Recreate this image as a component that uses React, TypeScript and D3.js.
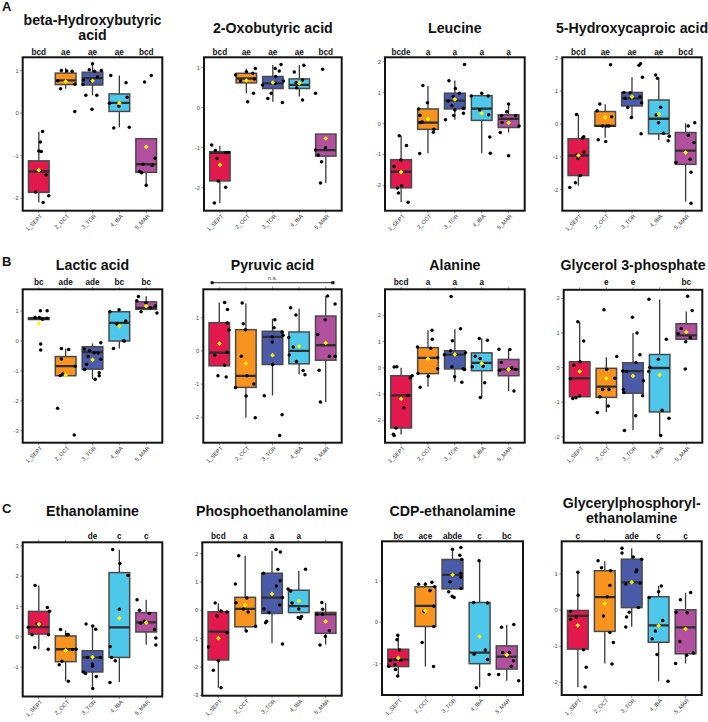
import React from "react";
import * as d3 from "d3";

// ---------- data ----------
const groups = ["1_SEPT", "2_OCT", "3_TOR", "4_IBA", "5_MAR"];
const groupColors = ["#E3184C", "#F7931E", "#4A5BAA", "#4DC7EA", "#B24F9E"];

const titles = [
  ["beta-Hydroxybutyric", "acid"], ["2-Oxobutyric acid"], ["Leucine"], ["5-Hydroxycaproic acid"],
  ["Lactic acid"], ["Pyruvic acid"], ["Alanine"], ["Glycerol 3-phosphate"],
  ["Ethanolamine"], ["Phosphoethanolamine"], ["CDP-ethanolamine"], ["Glycerylphosphoryl-", "ethanolamine"],
];

const sigLetters = [
  ["bcd", "ae", "ae", "ae", "bcd"], ["bcd", "ae", "ae", "ae", "bcd"], ["bcde", "a", "a", "a", "a"], ["bcd", "ae", "ae", "ae", "bcd"],
  ["bc", "ade", "ade", "bc", "bc"], ["", "", "", "", ""], ["bcd", "a", "a", "a", ""], ["", "e", "e", "", "bc"],
  ["", "", "de", "c", "c"], ["bcd", "a", "a", "a", ""], ["bc", "ace", "abde", "c", "bc"], ["c", "", "ade", "c", "c"],
];

// box stats per group: [lowerWhisker, q1, median, q3, upperWhisker]
const bhbBox = [[-2.1, -1.86, -1.37, -1.12, -0.44], [0.57, 0.67, 0.77, 0.94, 1.06], [0.42, 0.66, 0.82, 0.96, 1.16], [-0.33, 0.04, 0.24, 0.45, 0.88], [-1.69, -1.39, -1.2, -0.6, -0.6]];
const oxoBox = [[-2.38, -1.83, -1.13, -1.1, -0.95], [0.36, 0.62, 0.73, 0.86, 0.98], [0.15, 0.48, 0.61, 0.78, 1.07], [0.28, 0.48, 0.57, 0.72, 1.06], [-1.88, -1.21, -1.06, -0.66, -0.66]];
const leuBox = [[-2.54, -2.08, -1.56, -1.17, -0.4], [-0.96, -0.19, 0.03, 0.47, 1.21], [0.12, 0.47, 0.74, 0.98, 1.39], [-0.96, 0.1, 0.48, 0.9, 0.98], [-0.29, -0.13, 0.15, 0.28, 0.63]];
const hcaBox = [[-1.88, -1.57, -0.96, -0.45, 0.29], [-0.42, -0.07, -0.06, 0.38, 0.6], [0.2, 0.55, 0.78, 0.96, 1.42], [-0.49, -0.3, 0.16, 0.73, 1.39], [-2.37, -1.23, -0.81, -0.26, 0.02]];
const lacBox = [[0.72, 0.72, 0.75, 0.78, 0.79], [-1.16, -1.16, -0.84, -0.52, -0.25], [-1.28, -0.94, -0.37, -0.19, -0.08], [-0.25, 0.0, 0.61, 0.98, 1.04], [1.06, 1.06, 1.11, 1.31, 1.5]];
const pyrBox = [[-0.45, -0.45, -0.05, 0.85, 1.46], [-2.01, -1.1, -0.75, 0.64, 1.43], [-1.34, -0.41, 0.42, 0.59, 0.97], [-0.71, -0.39, 0.0, 0.57, 1.28], [-1.54, -0.28, 0.17, 1.05, 1.65]];
const alaBox = [[-2.54, -2.29, -1.05, -0.3, 0.0], [-0.72, -0.22, 0.38, 0.77, 1.43], [-0.53, -0.04, 0.5, 0.65, 1.47], [-1.13, -0.11, 0.19, 0.57, 1.12], [-0.89, -0.3, -0.06, 0.32, 0.7]];
const g3pBox = [[-0.84, -0.84, -0.31, 0.17, 1.33], [-1.28, -0.86, -0.55, -0.02, 0.3], [-1.81, -0.74, -0.1, 0.14, 1.0], [-1.95, -1.28, -0.01, 0.38, 1.97], [0.82, 0.82, 0.93, 1.27, 1.62]];
const ethBox = [[-0.41, 0.09, 0.32, 0.84, 1.69], [-1.45, -0.82, -0.41, 0.03, 0.21], [-1.71, -1.16, -0.68, -0.46, 0.36], [-1.49, -0.68, 0.31, 2.12, 2.87], [-0.26, 0.16, 0.48, 0.8, 1.22]];
const petBox = [[-2.73, -1.75, -0.75, -0.05, 0.25], [-0.73, -0.58, 0.05, 0.46, 1.93], [-1.16, -0.11, 0.45, 1.31, 2.09], [-0.08, -0.08, 0.15, 0.71, 1.4], [-1.2, -0.81, -0.14, -0.07, 0.26]];
const cdpBox = [[-1.27, -1.07, -0.9, -0.65, -0.31], [-1.07, -0.1, 0.4, 0.86, 0.97], [0.81, 0.81, 1.15, 1.52, 1.77], [-1.57, -1.0, -0.73, 0.48, 1.49], [-1.41, -1.13, -0.83, -0.57, -0.06]];
const gpeBox = [[-2.13, -1.08, -0.16, -0.01, 1.05], [-1.48, -0.59, 0.36, 1.09, 1.35], [-0.46, 0.07, 0.77, 1.41, 1.71], [-1.97, -0.89, -0.42, 0.37, 0.67], [-1.48, -1.21, -0.48, 0.01, 0.48]];

const bhbMean = [-1.34, 0.74, 0.76, 0.24, -0.79];
const oxoMean = [-1.43, 0.68, 0.63, 0.61, -0.77];
const leuMean = [-1.57, 0.15, 0.78, 0.33, 0.02];
const hcaMean = [-0.96, 0.2, 0.83, 0.3, -0.87];
const lacMean = [0.59, -1.14, -0.63, 0.5, 1.17];
const pyrMean = [0.22, -0.38, -0.13, 0.14, 0.24];
const alaMean = [-1.18, 0.34, 0.51, 0.17, -0.06];
const g3pMean = [-0.11, -0.31, -0.24, -0.21, 1.03];
const ethMean = [0.42, -0.45, -0.67, 0.62, 0.47];
const petMean = [-0.98, 0.19, 0.58, 0.33, -0.39];
const cdpMean = [-0.86, 0.28, 1.15, -0.34, -0.79];
const gpeMean = [-0.42, 0.18, 0.77, -0.43, -0.52];

// individual samples per group: [value, jitter (fraction of category step)]
const bhbPts = [
  [[-0.43, 0.14], [-0.68, 0.06], [-0.89, 0], [-0.9, 0.09], [-1.45, 0.27], [-1.85, -0.12], [-1.94, 0.37], [-2.1, 0.16]],
  [[1.0, -0.16], [0.99, 0.04], [0.98, 0.24], [0.76, -0.29], [0.68, 0.34], [0.57, -0.19], [0.04, 0.34]],
  [[1.16, 0], [1.02, -0.12], [0.98, 0.08], [1.0, 0.33], [0.78, -0.34], [0.76, -0.06], [0.85, 0.19], [0.42, -0.25], [0.42, 0.16], [0.09, -0.02], [0.67, -0.35]],
  [[0.88, -0.32], [0.71, 0.25], [0.37, 0.29], [0.23, -0.37], [0.16, -0.02], [-0.35, -0.21], [-0.33, 0.37]],
  [[0.73, -0.06], [0.88, 0.19], [-1.06, 0.33], [-1.2, -0.12], [-1.23, 0.22], [-1.37, -0.25], [-1.4, -0.17], [-1.69, 0]],
];
const oxoPts = [
  [[-0.93, -0.31], [-1.07, -0.17], [-1.27, -0.11], [-1.12, 0.22], [-1.12, 0.32], [-1.83, -0.06], [-1.99, 0.22], [-2.38, -0.21]],
  [[0.82, -0.41], [0.9, 0], [0.98, 0.34], [0.67, -0.22], [0.86, 0.24], [0.72, 0.3], [0.36, 0.27], [0.15, 0.05]],
  [[0.98, 0.09], [1.08, 0.31], [0.92, 0.24], [0.78, 0.11], [0.57, -0.39], [0.23, -0.19], [0.36, -0.06], [0.67, 0.4], [0.61, 0.09], [0.13, 0.36]],
  [[0.89, -0.19], [1.06, 0.17], [0.69, 0.12], [0.63, -0.12], [0.5, -0.1], [0.19, 0.12]],
  [[0.96, -0.12], [0.36, -0.39], [-1.06, -0.39], [-1.0, -0.01], [-1.18, -0.29], [-1.35, -0.16], [-1.88, -0.2]],
];
const leuPts = [
  [[-0.4, -0.07], [-0.71, 0.2], [-1.18, -0.01], [-1.39, -0.26], [-2.01, 0.02], [-2.09, -0.14], [-2.25, -0.1], [-2.55, 0.26]],
  [[1.23, -0.19], [0.67, -0.02], [0.47, -0.35], [0.27, -0.3], [0.03, -0.29], [0.05, -0.22], [-0.19, 0.22], [-0.28, 0.2], [-0.97, -0.31]],
  [[1.91, 0.36], [1.38, -0.22], [1.13, 0.02], [0.98, 0.17], [0.87, -0.06], [0.73, -0.24], [0.57, -0.11], [0.26, -0.04], [0.12, -0.35], [0.49, 0.32], [0.33, 0.32], [0.44, 0]],
  [[0.89, -0.39], [0.98, 0], [0.89, 0.24], [0.44, -0.07], [0.28, 0.26], [-0.44, 0.3], [-0.96, 0.32]],
  [[0.63, 0], [0.38, -0.07], [0.25, -0.26], [0.25, 0.26], [0.03, -0.24], [-0.08, 0.39], [-0.29, -0.31], [-1.04, 0]],
];
const hcaPts = [
  [[0.29, -0.07], [-0.39, 0.2], [-0.43, 0.15], [-0.85, 0.21], [-0.94, -0.04], [-1.05, -0.01], [-1.57, 0.07], [-1.79, -0.11], [-1.93, -0.32]],
  [[1.8, 0.2], [0.61, -0.2], [0.4, -0.3], [0.22, 0.24], [-0.06, 0.05], [-0.06, -0.1], [-0.06, 0.14], [-0.48, -0.26], [-0.53, 0.02]],
  [[1.79, 0.26], [1.83, 0.32], [1.42, 0.39], [0.96, -0.3], [0.95, -0.07], [0.83, 0.3], [0.78, -0.26], [0.65, 0.36], [0.5, -0.16], [0.2, -0.02], [-0.3, 0.34]],
  [[1.49, -0.12], [1.39, -0.05], [0.51, 0.07], [0.27, -0.1], [0.04, -0.01], [-0.28, 0.17], [-0.37, 0.39], [-0.51, 0.35]],
  [[0.04, 0.34], [-0.06, 0.1], [-0.34, 0.1], [-0.56, 0.31], [-1.17, -0.36], [-1.07, 0.17], [-1.47, 0.2], [-2.41, 0.2]],
];
const lacPts = [
  [[1.01, 0.06], [1.01, 0.31], [0.79, -0.14], [0.79, 0.02], [0.73, 0.14], [0.76, 0.3], [-0.1, 0.07], [-0.3, 0.07]],
  [[-0.25, -0.16], [-0.28, 0.11], [-0.6, -0.16], [-0.84, 0.36], [-1.15, -0.2], [-1.1, -0.11], [-2.25, -0.3], [-3.14, 0.32]],
  [[-0.06, 0.31], [-0.27, -0.31], [-0.32, -0.11], [-0.39, 0.06], [-0.4, 0.21], [-0.52, -0.16], [-0.61, 0.31], [-0.78, -0.22], [-0.95, -0.29], [-1.06, 0.25], [-1.16, 0.25], [-1.28, 0.1]],
  [[0.98, -0.35], [1.05, -0.01], [0.67, 0.24], [0.57, -0.1], [0.01, 0.15], [0.0, 0.19], [-0.25, -0.22]],
  [[1.49, -0.29], [1.35, -0.35], [1.28, -0.01], [0.98, -0.19], [1.11, 0.16], [1.18, 0.34], [0.94, 0.4]],
];
const pyrPts = [
  [[1.46, 0.2], [1.25, 0.31], [0.84, 0.3], [0.63, 0.36], [-0.13, -0.17], [-0.04, 0.29], [-0.43, 0.2], [-0.75, -0.05], [-0.79, 0.26]],
  [[1.44, -0.14], [0.82, -0.1], [0.64, -0.02], [-0.16, -0.17], [-0.75, 0.04], [-1.0, 0.3], [-1.1, -0.39], [-1.36, 0.01], [-2.01, 0.35]],
  [[0.94, 0.09], [0.7, 0.06], [0.42, -0.01], [0.27, -0.01], [0.57, 0.36], [0.47, 0.4], [-0.41, 0.01], [-1.35, -0.31], [-1.92, 0.36], [-2.55, 0.27]],
  [[1.3, -0.32], [1.08, -0.12], [0.4, -0.39], [0.12, -0.22], [-0.12, -0.37], [-0.32, -0.1], [-0.59, 0.15], [-0.72, 0.22]],
  [[1.65, 0.07], [1.41, 0.35], [0.94, -0.02], [0.49, -0.3], [-0.16, 0.14], [-0.16, 0.35], [-0.58, -0.25], [-1.54, -0.2]],
];
const alaPts = [
  [[0.03, -0.26], [0.04, -0.16], [-0.38, 0.34], [-0.3, 0.41], [-1.05, 0.25], [-1.52, 0.1], [-2.29, -0.19], [-2.53, -0.29], [-2.58, -0.26]],
  [[1.43, 0.15], [1.09, 0.16], [0.79, -0.39], [0.75, 0.1], [0.38, 0.36], [-0.03, 0.36], [-0.22, -0.37], [-0.32, 0.01], [-0.74, -0.29]],
  [[2.72, -0.14], [1.49, 0.21], [1.03, -0.09], [0.65, -0.16], [0.5, -0.39], [0.57, 0.4], [0.04, -0.11], [-0.06, 0.36], [-0.03, 0.31], [-0.34, -0.01], [-0.55, 0.26]],
  [[1.12, -0.09], [1.05, 0.21], [0.44, -0.24], [0.36, -0.06], [0.06, 0.05], [0.04, -0.35], [-0.57, 0.11], [-1.13, -0.05]],
  [[0.71, -0.36], [0.7, 0.05], [0.2, -0.27], [-0.1, -0.34], [0.0, 0.12], [-0.06, 0.27], [-0.88, 0.2]],
];
const g3pPts = [
  [[1.33, -0.07], [0.77, 0.15], [0.17, 0.02], [0.07, -0.22], [-0.32, -0.35], [-0.89, -0.26], [-0.87, -0.14], [-0.82, -0.01]],
  [[1.67, -0.09], [0.32, 0.39], [-0.05, 0.01], [-0.31, 0.32], [-0.63, -0.14], [-0.63, 0.1], [-0.84, -0.24], [-1.11, 0.07], [-1.3, -0.34]],
  [[1.46, -0.02], [1.0, 0.15], [0.37, 0.26], [0.15, 0.11], [-0.1, -0.39], [-0.11, -0.24], [-0.38, 0.39], [-0.63, -0.36], [-0.72, -0.34], [-0.81, 0.36], [-1.39, 0.1], [-1.82, -0.32]],
  [[1.98, -0.4], [0.82, 0.25], [0.24, -0.05], [0.01, -0.37], [-0.11, -0.41], [-1.23, 0.09], [-1.46, 0.35], [-1.96, 0.04]],
  [[2.06, 0.05], [1.65, 0.22], [1.13, -0.19], [0.99, -0.31], [0.87, 0.15], [0.75, -0.02], [-0.04, -0.04]],
];
const ethPts = [
  [[1.69, -0.14], [0.97, 0.32], [0.84, 0.4], [0.43, -0.06], [0.32, -0.39], [0.07, -0.25], [0.07, 0.36], [-0.35, -0.15], [-0.41, 0.35]],
  [[0.24, -0.19], [0.07, 0.04], [0.08, 0.1], [-0.42, 0.01], [-0.42, 0.26], [-0.41, 0.39], [-0.81, -0.14], [-0.92, -0.24], [-1.47, 0.1]],
  [[0.42, -0.24], [0.36, 0.01], [0.25, 0.12], [-0.68, -0.19], [-0.68, 0.29], [-0.9, 0], [-0.97, 0], [-1.16, -0.34], [-1.21, -0.26], [-1.31, 0.14], [-1.71, 0.01]],
  [[2.88, -0.25], [2.42, 0.02], [2.02, 0.32], [0.91, 0], [-0.32, -0.34], [-0.68, -0.29], [-0.79, -0.15], [-1.51, -0.35]],
  [[1.22, -0.34], [0.88, -0.25], [0.77, 0.12], [0.51, -0.07], [0.45, -0.21], [0.24, 0.31], [-0.04, 0.36], [-0.27, 0.36]],
];
const petPts = [
  [[0.26, -0.12], [-0.2, -0.05], [-0.02, 0.1], [-0.06, 0.32], [-0.79, 0.32], [-1.29, -0.37], [-1.78, 0], [-2.11, -0.19], [-2.73, 0.1]],
  [[1.93, -0.24], [0.93, -0.37], [0.27, -0.34], [0.44, 0.06], [0.05, -0.07], [-0.06, 0.11], [-0.56, 0.39], [-0.73, 0.04]],
  [[2.15, 0.15], [2.06, 0.31], [1.44, 0.22], [1.31, -0.32], [1.04, 0.3], [0.86, 0.16], [0.45, 0.39], [0.19, 0.29], [0.05, -0.3], [-0.08, -0.11], [-0.38, -0.2], [-0.44, -0.24], [-1.19, 0.39]],
  [[0.75, -0.4], [0.68, -0.3], [0.26, -0.25], [1.45, 0.25], [0.05, 0], [-0.29, 0.06], [-0.25, -0.02], [-0.22, 0.1]],
  [[0.28, -0.14], [0.04, -0.11], [-0.14, -0.32], [-0.14, -0.12], [-0.72, 0.14], [-0.92, -0.01], [-1.22, -0.21]],
];
const cdpPts = [
  [[-0.31, -0.02], [-0.42, -0.05], [-0.67, 0.05], [-0.92, -0.29], [-0.9, -0.1], [-0.92, 0.09], [-1.06, -0.35], [-1.14, -0.1], [-1.3, -0.02], [-1.02, -0.12]],
  [[0.92, -0.25], [0.92, 0], [0.97, 0.24], [0.77, 0.17], [0.86, 0.34], [0.39, 0.31], [0.26, -0.05], [-0.1, 0.31], [-0.49, -0.12], [-1.07, 0.3]],
  [[1.77, 0], [1.81, 0.31], [1.62, 0.27], [1.52, 0.34], [1.15, -0.01], [1.19, 0.31], [1.09, 0.31], [0.98, -0.09], [0.82, 0.31], [0.74, -0.14], [0.63, -0.01], [0.6, 0.06]],
  [[1.49, -0.02], [0.48, -0.22], [0.47, 0.29], [-0.77, -0.2], [-0.67, 0.21], [-0.9, 0.29], [-1.26, 0.35], [-1.58, -0.12]],
  [[-0.12, -0.19], [-0.05, 0.26], [-0.73, -0.15], [-0.73, 0.1], [-0.93, 0.25], [-1.06, 0.17], [-1.26, -0.3], [-1.41, 0.44]],
];
const gpePts = [
  [[1.05, 0], [0.41, 0.01], [-0.04, -0.27], [-0.19, -0.06], [-0.25, -0.27], [-1.1, 0.21], [-1.58, 0.31], [-2.13, 0.27]],
  [[1.37, -0.25], [1.17, -0.12], [1.09, 0.21], [0.37, 0.09], [0.68, 0.19], [-0.16, -0.05], [-0.62, 0.19], [-0.9, 0.32], [-1.49, 0.27]],
  [[1.71, -0.36], [1.58, -0.36], [1.47, 0.06], [1.41, 0.37], [1.11, 0.19], [1.06, 0.16], [0.72, -0.22], [0.75, 0.31], [0.07, 0.25], [-0.06, -0.09], [-0.19, -0.19], [-0.47, -0.22]],
  [[0.35, -0.35], [0.51, 0], [0.67, 0.1], [-0.29, 0.15], [-0.58, -0.12], [-0.79, -0.24], [-1.23, -0.06], [-1.97, 0.35]],
  [[0.29, -0.19], [0.49, 0.19], [-0.06, -0.35], [-0.07, 0.06], [-0.87, -0.21], [-1.25, 0.04], [-1.19, 0.29], [-1.48, -0.37]],
];

const allBoxes = [bhbBox, oxoBox, leuBox, hcaBox, lacBox, pyrBox, alaBox, g3pBox, ethBox, petBox, cdpBox, gpeBox];
const allMeans = [bhbMean, oxoMean, leuMean, hcaMean, lacMean, pyrMean, alaMean, g3pMean, ethMean, petMean, cdpMean, gpeMean];
const allPts = [bhbPts, oxoPts, leuPts, hcaPts, lacPts, pyrPts, alaPts, g3pPts, ethPts, petPts, cdpPts, gpePts];
const yDomains = [
  [-2.29, 1.31], [-2.575, 1.26], [-2.82, 2.14], [-2.64, 2.03],
  [-3.4, 1.73], [-2.765, 1.855], [-2.85, 2.99], [-2.17, 2.25],
  [-1.97, 3.12], [-3.01, 2.4], [-1.757, 1.96], [-2.35, 1.905],
];

// ---------- layout ----------
const FONT = "'Liberation Sans', Arial, Helvetica, sans-serif";
const frames = [
  [22.7, 57.3, 162.3, 210.7], [204, 57.3, 341.7, 210.7], [385, 57.3, 524.7, 210.7], [562.3, 57.3, 701.7, 210.7],
  [22.7, 289.3, 162.3, 442.7], [203.3, 289.3, 341.7, 442.7], [385, 289.3, 524.7, 442.7], [563.7, 289.8, 702.3, 442.7],
  [22.7, 542.3, 162.3, 696.5], [202.3, 542.3, 341.7, 695.7], [382, 541.3, 523, 695], [561.7, 541.3, 701.7, 695],
];
const rowTitleY = [33, 269.5, 516];
const rowLetterY = [54.5, 285, 539];

function Panel({ idx }: { idx: number }) {
  const [x0, y0, x1, y1] = frames[idx];
  const row = Math.floor(idx / 4);
  const xs = d3.scalePoint<string>().domain(groups).range([x0, x1]).padding(0.6);
  const step = xs.step();
  const ys = d3.scaleLinear().domain(yDomains[idx]).range([y1, y0]);
  const [lo, hi] = yDomains[idx];
  const ticks = d3.range(Math.ceil(lo), Math.floor(hi) + 1);
  const boxes = allBoxes[idx];
  const means = allMeans[idx];
  const pts = allPts[idx];
  const t = titles[idx];
  const cxTitle = (x0 + x1) / 2;
  const halfW = step * 0.385;
  const diamond = d3.symbol().type(d3.symbolSquare).size(11)();
  const clipId = `clip${idx}`;
  const titleLines = t.length === 2 ? [rowTitleY[row] - 8.5, rowTitleY[row] + 7] : [rowTitleY[row]];

  return (
    <g>
      <defs>
        <clipPath id={clipId}>
          <rect x={x0} y={y0} width={x1 - x0} height={y1 - y0} />
        </clipPath>
      </defs>
      {t.map((line, i) => (
        <text key={i} x={cxTitle} y={titleLines[i]} textAnchor="middle" fontFamily={FONT} fontWeight="bold" fontSize={14.2} fill="#111">
          {line}
        </text>
      ))}
      {groups.map((g, i) => (
        <g key={g}>
          <line x1={xs(g)} x2={xs(g)} y1={y0} y2={y0 - 2.5} stroke="#666" strokeWidth={0.7} />
          <line x1={xs(g)} x2={xs(g)} y1={y1} y2={y1 + 2.5} stroke="#666" strokeWidth={0.7} />
          {sigLetters[idx][i] && (
            <text x={xs(g)} y={rowLetterY[row]} textAnchor="middle" fontFamily={FONT} fontWeight="bold" fontSize={8.2} fill="#111">
              {sigLetters[idx][i]}
            </text>
          )}
          <text
            transform={`translate(${xs(g)! + 2.5},${y1 + 4.5}) rotate(-45)`}
            textAnchor="end"
            dy="0.35em"
            fontFamily={FONT}
            fontSize={5.6}
            fill="#333"
          >
            {g}
          </text>
        </g>
      ))}
      {ticks.map((v) => (
        <g key={v}>
          <line x1={x0 - 2.5} x2={x0} y1={ys(v)} y2={ys(v)} stroke="#666" strokeWidth={0.7} />
          <text x={x0 - 4} y={ys(v)} dy="0.35em" textAnchor="end" fontFamily={FONT} fontSize={5.8} fill="#4d4d4d">
            {v}
          </text>
        </g>
      ))}
      <g clipPath={`url(#${clipId})`}>
        {boxes.map((b, i) => {
          const cx = xs(groups[i])!;
          return (
            <g key={i}>
              <line x1={cx} x2={cx} y1={ys(b[0])} y2={ys(b[1])} stroke="#3a3a3a" strokeWidth={1.3} />
              <line x1={cx} x2={cx} y1={ys(b[3])} y2={ys(b[4])} stroke="#3a3a3a" strokeWidth={1.3} />
              <rect
                x={cx - halfW}
                y={ys(b[3])}
                width={halfW * 2}
                height={Math.max(0.5, ys(b[1]) - ys(b[3]))}
                fill={groupColors[i]}
                stroke="#4a4a4a"
                strokeWidth={1.5}
              />
              <line x1={cx - halfW} x2={cx + halfW} y1={ys(b[2])} y2={ys(b[2])} stroke="#2e2e2e" strokeWidth={2.3} />
            </g>
          );
        })}
        {pts.map((grp, i) =>
          grp.map((p, k) => (
            <circle key={`${i}-${k}`} cx={xs(groups[i])! + p[1] * step} cy={ys(p[0])} r={1.75} fill="#000" />
          ))
        )}
        {means.map((m, i) => (
          <path
            key={i}
            d={diamond!}
            transform={`translate(${xs(groups[i])},${ys(m)}) rotate(45)`}
            fill="#FFF200"
          />
        ))}
      </g>
      <rect x={x0} y={y0} width={x1 - x0} height={y1 - y0} fill="none" stroke="#141414" strokeWidth={2} />
      {idx === 5 && (
        <g>
          <line
            x1={xs(groups[0])! - 0.27 * step}
            x2={xs(groups[4])! + 0.27 * step}
            y1={y0 - 6.6}
            y2={y0 - 6.6}
            stroke="#111"
            strokeWidth={0.9}
          />
          <rect x={xs(groups[0])! - 0.27 * step - 1.5} y={y0 - 8.1} width={3} height={3} fill="#111" />
          <rect x={xs(groups[4])! + 0.27 * step - 1.5} y={y0 - 8.1} width={3} height={3} fill="#111" />
          <text x={(x0 + x1) / 2} y={y0 - 9.5} textAnchor="middle" fontFamily={FONT} fontSize={5.8} fill="#333">
            n.s.
          </text>
        </g>
      )}
    </g>
  );
}

export default function App() {
  return (
    <svg
      width={708}
      height={722}
      viewBox="0 0 708 722"
      style={{ position: "absolute", left: 0, top: 0, background: "#fff" }}
    >
      <rect x={0} y={0} width={708} height={722} fill="#fff" />
      <text x={2} y={11} fontFamily={FONT} fontWeight="bold" fontSize={13} fill="#111">A</text>
      <text x={2} y={266} fontFamily={FONT} fontWeight="bold" fontSize={13} fill="#111">B</text>
      <text x={2} y={513} fontFamily={FONT} fontWeight="bold" fontSize={13} fill="#111">C</text>
      {d3.range(12).map((i) => (
        <Panel key={i} idx={i} />
      ))}
    </svg>
  );
}
